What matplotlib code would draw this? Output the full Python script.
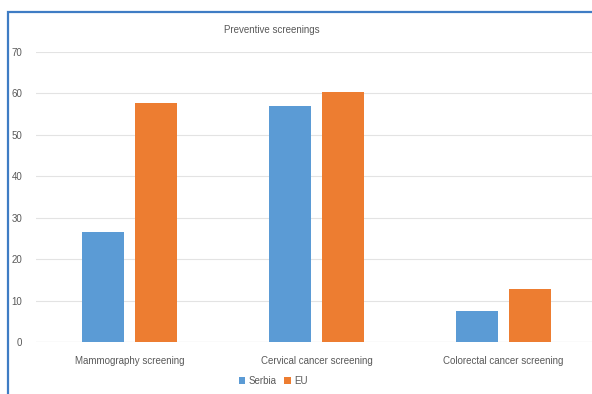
import numpy as np
import matplotlib
matplotlib.use("Agg")
import matplotlib.pyplot as plt
from matplotlib.patches import Rectangle

categories = ['Mammography screening', 'Cervical cancer screening', 'Colorectal cancer screening']
serbia = [26.5, 57.0, 7.6]
eu = [57.6, 60.3, 12.7]
series_names = ['Serbia', 'EU']
yticks = [0, 10, 20, 30, 40, 50, 60, 70]

plt.rcParams['font.family'] = ['Liberation Sans', 'DejaVu Sans']

fig = plt.figure(figsize=(5.92, 3.94), dpi=100)

# chart frame (blue border, runs off the image on right/bottom)
frame = Rectangle((8 / 592, -0.1), 1.2, 1 - 12 / 394 + 0.1, transform=fig.transFigure,
                  fill=False, edgecolor='#3f7cc4', linewidth=1.6, zorder=0)
fig.patches.append(frame)

ax = fig.add_axes([36 / 592, 1 - 342 / 394, 561 / 592, 290 / 394])

x = np.arange(len(categories))
width = 0.225
offset = 0.144
ax.bar(x - offset, serbia, width, color='#5b9bd5', label=series_names[0], zorder=3)
ax.bar(x + offset, eu, width, color='#ed7d31', label=series_names[1], zorder=3)

ax.set_xlim(-0.5, len(categories) - 0.5)
ax.set_ylim(0, 70)
ax.set_yticks(yticks)
ax.set_xticks(x)
ax.set_xticklabels(categories)
ax.grid(axis='y', color='#e3e3e3', linewidth=0.8, zorder=0)
ax.set_axisbelow(True)
for s in ax.spines.values():
    s.set_visible(False)
ax.axhline(0, color='#d0d0d0', linewidth=0.8, zorder=2)
ax.tick_params(axis='both', length=0, labelsize=7, labelcolor='#595959')
ax.tick_params(axis='x', pad=10)
ax.tick_params(axis='y', pad=10)

fig.text(272 / 592, 1 - 30 / 394, 'Preventive screenings', ha='center', va='center',
         fontsize=7, color='#595959')

handles, labels = ax.get_legend_handles_labels()
fig.legend(handles, labels, loc='center', bbox_to_anchor=(273 / 592, 1 - 381 / 394),
           ncol=2, frameon=False, fontsize=7, labelcolor='#595959',
           handlelength=0.7, handleheight=0.7, handletextpad=0.3, columnspacing=0.8)

fig.savefig('out.png', dpi=100)
